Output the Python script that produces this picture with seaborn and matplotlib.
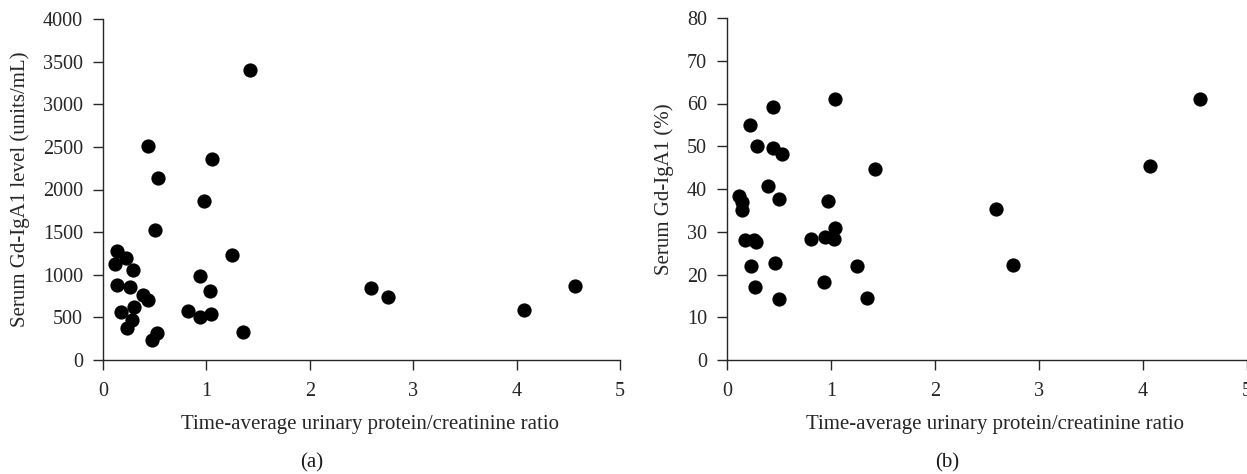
import matplotlib
matplotlib.use("Agg")
import matplotlib.pyplot as plt
import seaborn as sns
import pandas as pd

# ---- data ----
ratio_a = [1.42, 0.44, 1.05, 0.53, 0.98, 0.50, 0.14, 0.22, 0.12, 1.25, 0.29,
           0.94, 0.14, 0.26, 1.03, 0.39, 0.44, 0.30, 0.17, 0.28, 0.23, 0.82,
           0.94, 1.04, 0.52, 0.47, 1.35, 2.59, 2.76, 4.07, 4.56]
level_a = [3400, 2510, 2360, 2140, 1870, 1530, 1280, 1200, 1130, 1230, 1050,
           990, 880, 860, 810, 760, 700, 625, 560, 470, 380, 575,
           500, 545, 320, 240, 325, 845, 743, 587, 872]

ratio_b = [1.04, 0.44, 0.22, 0.29, 0.44, 0.53, 1.42, 0.39, 0.12, 0.14, 0.50,
           0.97, 0.14, 1.04, 0.17, 0.26, 0.28, 0.81, 0.94, 1.03, 0.23, 0.46,
           1.25, 0.93, 0.27, 0.50, 1.35, 2.59, 2.75, 4.07, 4.55]
pct_b = [61.1, 59.2, 55.0, 50.1, 49.6, 48.2, 44.6, 40.8, 38.4, 36.9, 37.7,
         37.1, 35.0, 30.8, 28.1, 28.1, 27.6, 28.3, 28.7, 28.4, 22.1, 22.6,
         21.9, 18.2, 17.0, 14.3, 14.6, 35.4, 22.3, 45.4, 61.0]

xticks = [0, 1, 2, 3, 4, 5]
yticks_a = [0, 500, 1000, 1500, 2000, 2500, 3000, 3500, 4000]
yticks_b = [0, 10, 20, 30, 40, 50, 60, 70, 80]

xlabel = "Time-average urinary protein/creatinine ratio"
ylabel_a = "Serum Gd-IgA1 level (units/mL)"
ylabel_b = "Serum Gd-IgA1 (%)"
panel_labels = ["(a)", "(b)"]

df_a = pd.DataFrame({"ratio": ratio_a, "level": level_a})
df_b = pd.DataFrame({"ratio": ratio_b, "pct": pct_b})

sns.set_theme(style="white")
plt.rcParams["font.family"] = ["Liberation Serif", "DejaVu Serif"]
plt.rcParams["axes.edgecolor"] = "#262626"
plt.rcParams["xtick.color"] = "#262626"
plt.rcParams["ytick.color"] = "#262626"
plt.rcParams["text.color"] = "#1a1a1a"

W, H = 1247, 474
fig = plt.figure(figsize=(W / 100, H / 100), dpi=100)

ax_a = fig.add_axes([103 / W, (H - 360) / H, 517 / W, 341 / H])
ax_b = fig.add_axes([727 / W, (H - 360) / H, 520 / W, 342 / H])

FS_TICK = 14.5
FS_LAB = 15

def style(ax, df, ycol, yticks, ylabel, ylab_x):
    sns.scatterplot(data=df, x="ratio", y=ycol, ax=ax, color="black",
                    s=105, edgecolor="black", linewidth=0, clip_on=False,
                    zorder=3)
    ax.set_xlim(0, 5)
    ax.set_ylim(yticks[0], yticks[-1])
    ax.set_xticks(xticks)
    ax.set_yticks(yticks)
    ax.set_xticklabels([str(t) for t in xticks], fontsize=FS_TICK)
    ax.set_yticklabels([str(t) for t in yticks], fontsize=FS_TICK)
    for side in ["top", "right"]:
        ax.spines[side].set_visible(False)
    for side in ["left", "bottom"]:
        ax.spines[side].set_linewidth(1.0)
    ax.tick_params(axis="both", direction="out", length=7.5, width=1.0,
                   left=True, bottom=True)
    ax.tick_params(axis="x", pad=8.5)
    ax.tick_params(axis="y", pad=7)
    ax.set_xlabel(xlabel, fontsize=FS_LAB)
    ax.set_ylabel(ylabel, fontsize=FS_LAB)
    ax.xaxis.set_label_coords(0.516, -0.19)
    ax.xaxis.label.set_va("center")
    ax.yaxis.set_label_coords(ylab_x, 0.5)
    ax.yaxis.label.set_va("center")
    ax.grid(False)

style(ax_a, df_a, "level", yticks_a, ylabel_a, (20 - 103) / 517)
style(ax_b, df_b, "pct", yticks_b, ylabel_b, (664 - 727) / 520)

fig.text(312 / W, 1 - 463 / H, panel_labels[0], ha="center", va="center", fontsize=FS_LAB)
fig.text(947 / W, 1 - 463 / H, panel_labels[1], ha="center", va="center", fontsize=FS_LAB)

fig.savefig("out.png", dpi=100)
